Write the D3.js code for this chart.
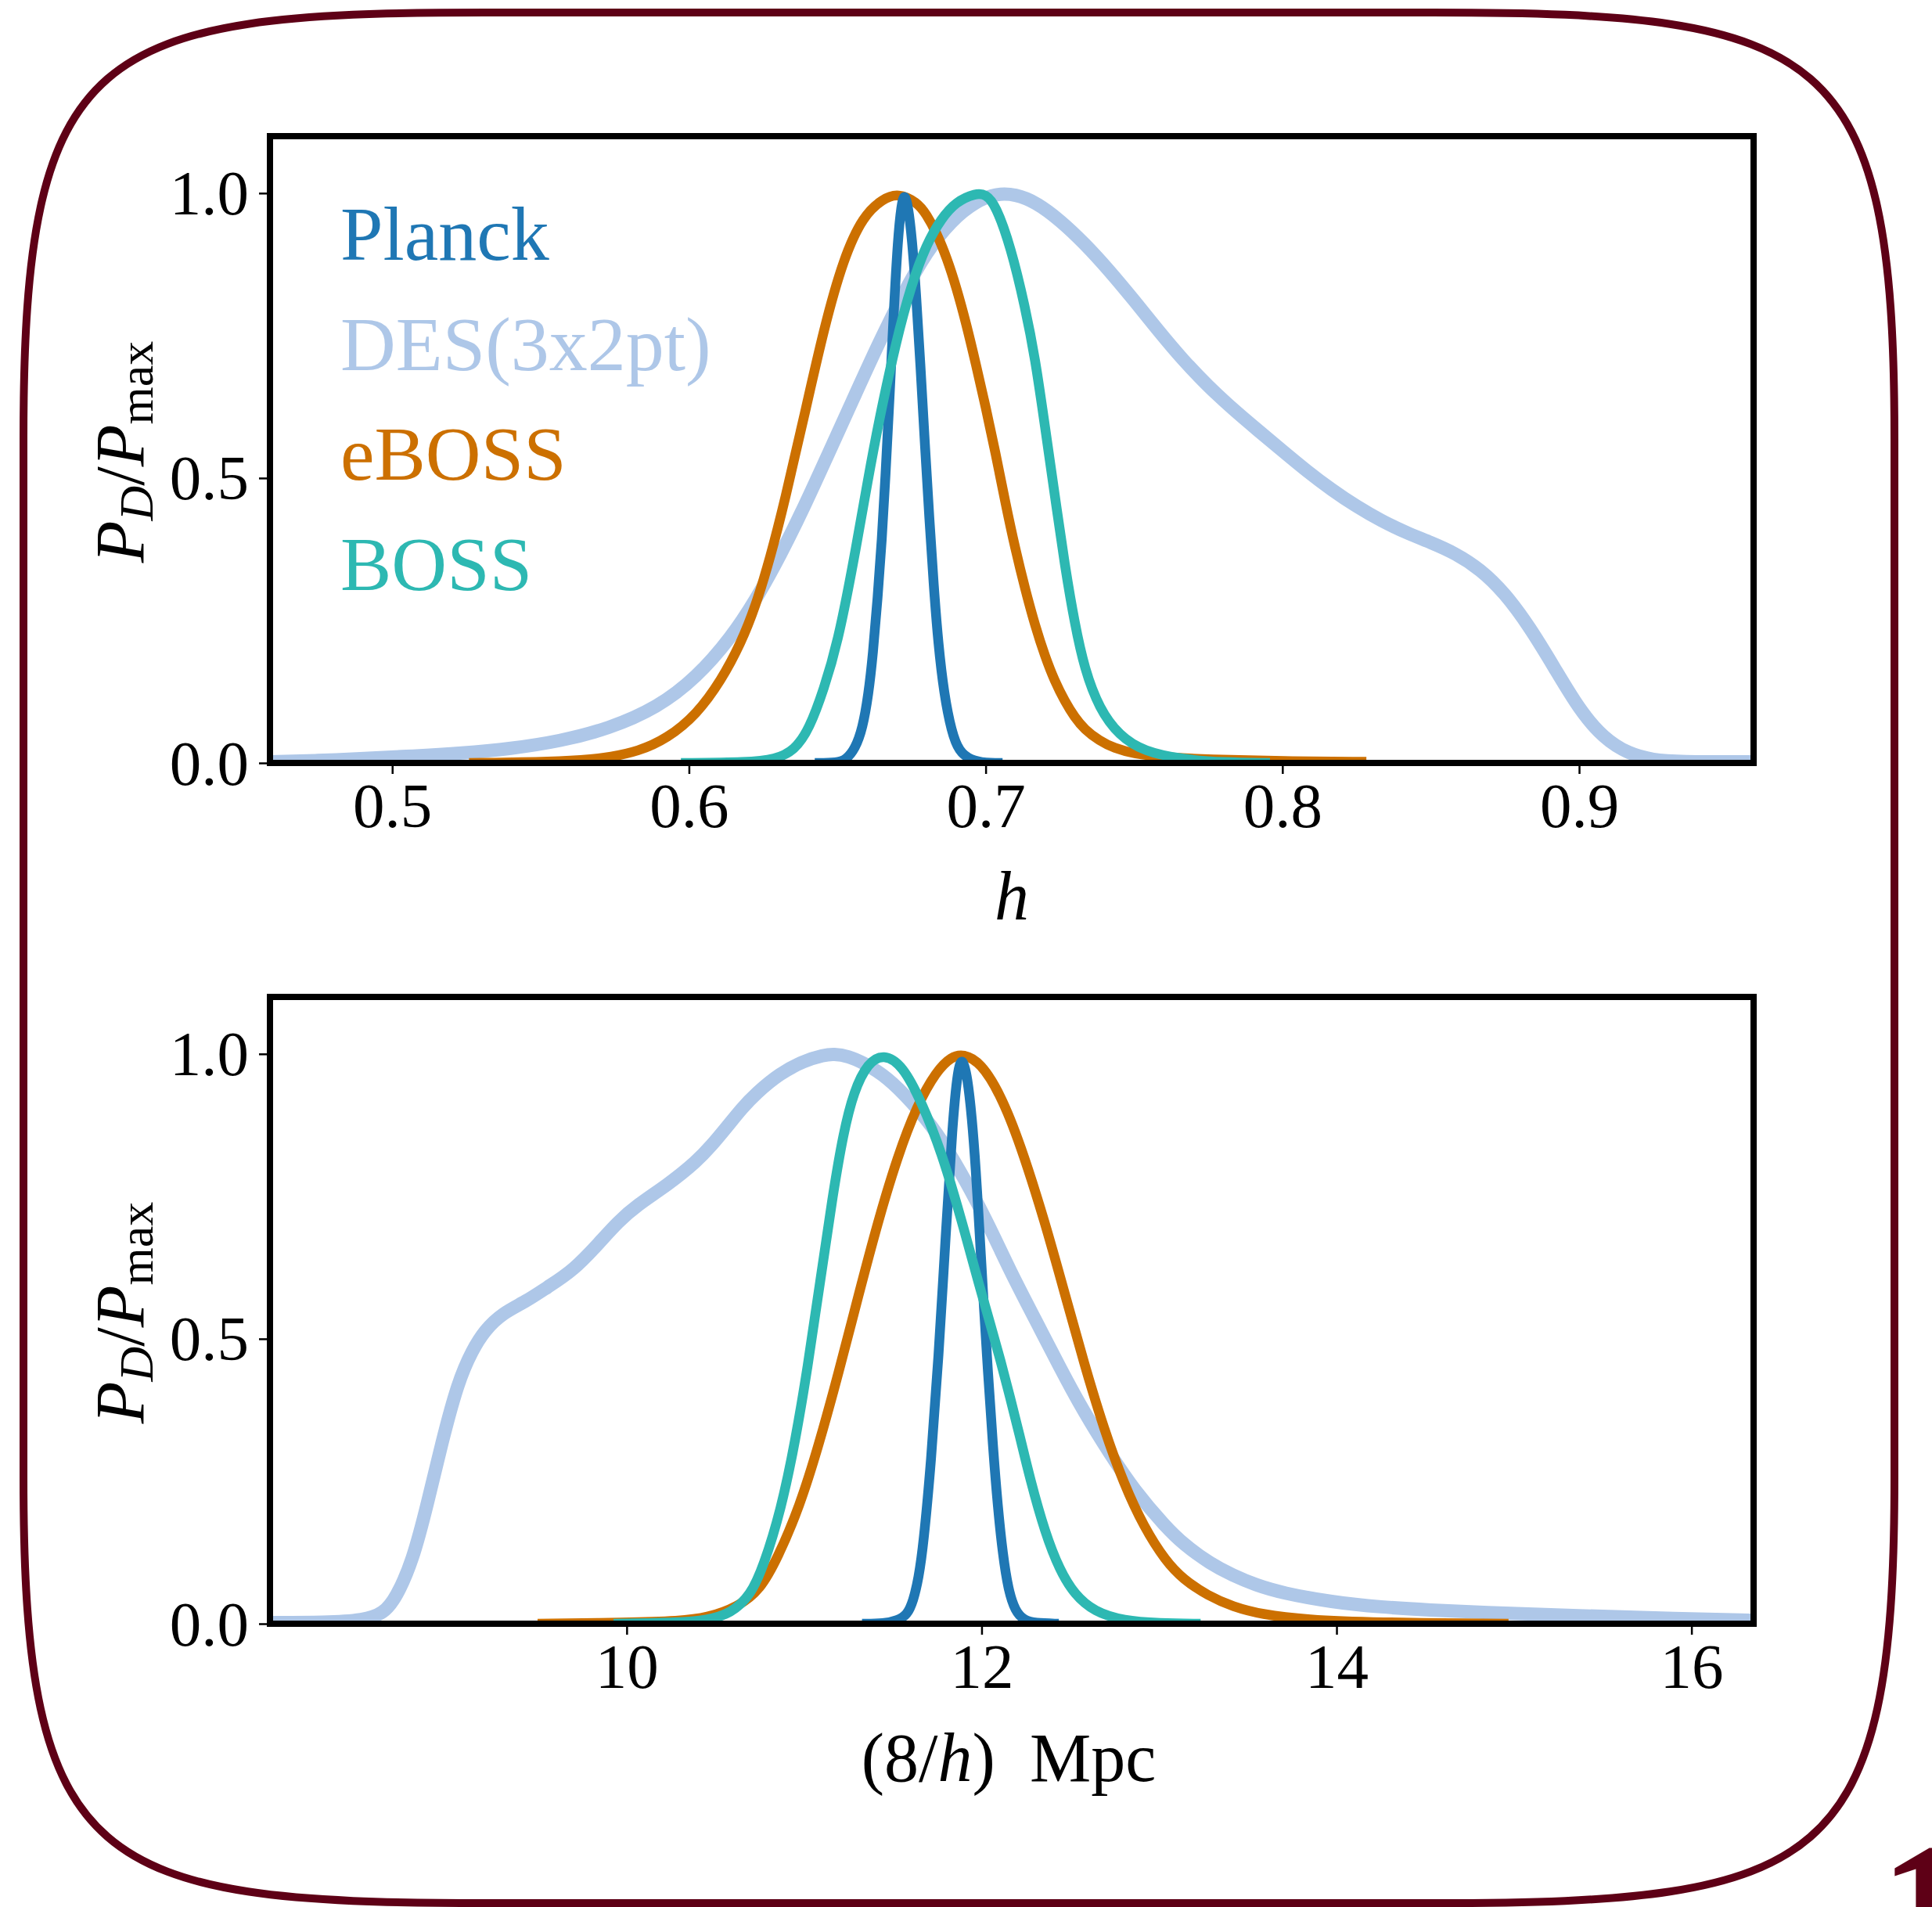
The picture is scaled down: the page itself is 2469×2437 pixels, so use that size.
<!DOCTYPE html>
<html>
<head>
<meta charset="utf-8">
<script src="https://cdn.jsdelivr.net/npm/d3@7"></script>
<style>
  html, body { margin: 0; padding: 0; background: #ffffff; }
  svg { display: block; }
</style>
</head>
<body>
<script>
// ---------------- DATA ----------------
const seriesNames = ["Planck", "DES(3x2pt)", "eBOSS", "BOSS"];

const hTicks = [0.5, 0.6, 0.7, 0.8, 0.9];
const hTickLabels = ["0.5", "0.6", "0.7", "0.8", "0.9"];
const rTicks = [10, 12, 14, 16];
const rTickLabels = ["10", "12", "14", "16"];
const yTicks = [0.0, 0.5, 1.0];
const yTickLabels = ["0.0", "0.5", "1.0"];
const hDomain = [0.4588, 0.9588];
const rDomain = [7.99, 16.35];
const yDomain = [0, 1.1];

// Top panel: h
const planckH = [[0.6424,0],[0.6500,0],[0.6530,0.006],[0.6560,0.025],[0.6585,0.06],[0.6605,0.12],[0.6620,0.19],
  [0.6636,0.29],[0.6650,0.39],[0.6662,0.50],[0.6676,0.64],[0.6690,0.79],[0.6704,0.92],[0.6716,0.98],[0.6726,1.0],
  [0.6738,0.98],[0.6752,0.92],[0.6766,0.82],[0.6780,0.70],[0.6795,0.56],[0.6810,0.43],[0.6825,0.31],
  [0.6840,0.21],[0.6860,0.12],[0.6885,0.055],[0.6910,0.02],[0.6950,0.005],[0.7000,0],[0.7057,0]];
const desH = [[0.4588,0.002],[0.4750,0.004],[0.4904,0.008],[0.5070,0.012],[0.5234,0.017],[0.5400,0.025],
  [0.5564,0.038],[0.5730,0.060],[0.5894,0.097],[0.6026,0.150],[0.6142,0.220],[0.6224,0.285],[0.6307,0.363],
  [0.6389,0.450],[0.6472,0.545],[0.6554,0.639],[0.6637,0.734],[0.6719,0.821],[0.6802,0.898],[0.6884,0.952],
  [0.6967,0.986],[0.7040,1.0],[0.7100,0.998],[0.7167,0.985],[0.7250,0.953],[0.7333,0.912],[0.7417,0.864],
  [0.7500,0.812],[0.7583,0.758],[0.7667,0.706],[0.7750,0.661],[0.7833,0.621],[0.7917,0.584],[0.8000,0.548],
  [0.8083,0.512],[0.8167,0.479],[0.8250,0.450],[0.8333,0.425],[0.8417,0.404],[0.8500,0.387],[0.8583,0.368],
  [0.8667,0.340],[0.8750,0.298],[0.8833,0.239],[0.8917,0.167],[0.9000,0.094],[0.9083,0.043],[0.9167,0.016],
  [0.9250,0.005],[0.9333,0.002],[0.9588,0.002]];
const eBossH = [[0.5259,0],[0.5550,0.002],[0.5682,0.007],[0.5729,0.01],[0.5828,0.02],[0.5927,0.043],[0.6026,0.085],
  [0.6109,0.145],[0.6175,0.21],[0.6224,0.274],[0.6274,0.36],[0.6323,0.46],[0.6389,0.61],[0.6455,0.763],
  [0.6521,0.886],[0.6587,0.96],[0.6653,0.99],[0.6705,1.0],[0.6769,0.984],[0.6800,0.963],[0.6835,0.93],
  [0.6870,0.885],[0.6901,0.835],[0.6935,0.77],[0.6967,0.70],[0.7000,0.625],[0.7033,0.545],[0.7067,0.455],
  [0.7100,0.375],[0.7133,0.305],[0.7167,0.24],[0.7200,0.187],[0.7233,0.143],[0.7267,0.108],[0.7300,0.08],
  [0.7333,0.059],[0.7383,0.039],[0.7433,0.026],[0.7500,0.016],[0.7600,0.01],[0.7750,0.006],[0.8000,0.003],
  [0.8283,0.002]];
const bossH = [[0.5973,0],[0.6200,0.001],[0.6290,0.006],[0.6356,0.022],[0.6406,0.06],[0.6455,0.13],[0.6501,0.21],
  [0.6554,0.35],[0.6604,0.50],[0.6640,0.60],[0.6698,0.74],[0.6750,0.84],[0.6800,0.91],[0.6850,0.955],
  [0.6900,0.985],[0.6967,1.0],[0.7000,0.998],[0.7033,0.98],[0.7085,0.905],[0.7133,0.80],[0.7167,0.71],
  [0.7200,0.59],[0.7233,0.47],[0.7267,0.345],[0.7300,0.245],[0.7333,0.165],[0.7383,0.095],[0.7450,0.048],
  [0.7533,0.02],[0.7667,0.006],[0.7800,0.001],[0.7958,0]];

// Bottom panel: (8/h) Mpc
const planckR = [[11.326,0],[11.450,0],[11.526,0.006],[11.580,0.015],[11.615,0.04],[11.645,0.08],[11.672,0.138],
  [11.715,0.283],[11.757,0.465],[11.798,0.683],[11.836,0.879],[11.866,0.975],[11.892,0.995],[11.920,0.96],
  [11.945,0.89],[11.967,0.80],[11.990,0.68],[12.008,0.58],[12.036,0.44],[12.064,0.31],[12.091,0.205],
  [12.120,0.12],[12.150,0.06],[12.189,0.022],[12.240,0.006],[12.300,0.001],[12.435,0]];
const desR = [[7.99,0.002],[8.30,0.002],[8.52,0.006],[8.63,0.018],[8.70,0.045],[8.794,0.11],[8.877,0.21],
  [8.96,0.32],[9.05,0.425],[9.13,0.48],[9.20,0.515],[9.30,0.545],[9.43,0.565],[9.55,0.59],[9.70,0.62],
  [9.85,0.67],[9.95,0.705],[10.06,0.735],[10.23,0.77],[10.394,0.811],[10.48,0.84],[10.56,0.87],[10.65,0.905],
  [10.726,0.93],[10.863,0.966],[11.00,0.988],[11.11,0.998],[11.167,1.0],[11.25,0.996],[11.332,0.985],
  [11.47,0.959],[11.608,0.915],[11.746,0.864],[11.884,0.792],[12.022,0.712],[12.162,0.618],[12.301,0.535],
  [12.44,0.45],[12.579,0.37],[12.719,0.30],[12.858,0.235],[13.037,0.17],[13.136,0.14],[13.29,0.105],
  [13.415,0.085],[13.544,0.068],[13.694,0.054],[13.972,0.038],[14.251,0.029],[14.53,0.024],[14.808,0.02],
  [15.365,0.014],[15.922,0.009],[16.35,0.006]];
const eBossR = [[9.498,0],[10.0,0.002],[10.3,0.005],[10.45,0.01],[10.63,0.03],[10.753,0.06],[10.85,0.115],
  [10.974,0.205],[11.084,0.315],[11.194,0.44],[11.305,0.575],[11.415,0.705],[11.526,0.82],[11.636,0.91],
  [11.746,0.97],[11.829,0.995],[11.898,1.0],[11.994,0.985],[12.105,0.93],[12.215,0.845],[12.357,0.705],
  [12.468,0.58],[12.579,0.455],[12.691,0.34],[12.802,0.245],[12.914,0.17],[13.037,0.11],[13.136,0.078],
  [13.276,0.049],[13.415,0.03],[13.582,0.016],[13.833,0.007],[14.2,0.002],[14.969,0]];
const bossR = [[9.926,0],[10.3,0.002],[10.45,0.006],[10.588,0.018],[10.698,0.05],[10.77,0.10],[10.87,0.20],
  [10.95,0.32],[11.02,0.45],[11.09,0.60],[11.16,0.75],[11.22,0.86],[11.28,0.935],[11.36,0.985],[11.448,1.0],
  [11.553,0.981],[11.663,0.915],[11.774,0.828],[11.884,0.712],[11.994,0.585],[12.050,0.525],[12.106,0.463],
  [12.16,0.398],[12.215,0.33],[12.273,0.254],[12.357,0.16],[12.44,0.094],[12.524,0.051],[12.635,0.021],
  [12.802,0.005],[13.0,0.001],[13.234,0]];

// ---------------- STYLE / LAYOUT ----------------
const colors = { "Planck": "#1f77b4", "DES(3x2pt)": "#aec7e8", "eBOSS": "#cc7000", "BOSS": "#2db8b2" };
const widths = { "Planck": 12.5, "DES(3x2pt)": 17, "eBOSS": 12.5, "BOSS": 12.5 };
const drawOrder = ["DES(3x2pt)", "eBOSS", "Planck", "BOSS"];
const serif = "'Liberation Serif', 'Times New Roman', Times, serif";
const W = 2469, H = 2437;
const plotL = 345, plotR = 2241;
const panels = [
  { top: 174, bottom: 975, domain: hDomain, ticks: hTicks, labels: hTickLabels,
    data: { "Planck": planckH, "DES(3x2pt)": desH, "eBOSS": eBossH, "BOSS": bossH }, legend: true, xlabel: "h" },
  { top: 1274, bottom: 2075, domain: rDomain, ticks: rTicks, labels: rTickLabels,
    data: { "Planck": planckR, "DES(3x2pt)": desR, "eBOSS": eBossR, "BOSS": bossR }, legend: false, xlabel: "mpc" }
];

const svg = d3.select("body").append("svg")
  .attr("width", W).attr("height", H)
  .attr("viewBox", `0 0 ${W} ${H}`);

svg.append("rect").attr("width", W).attr("height", H).attr("fill", "#ffffff");

const defs = svg.append("defs");

panels.forEach((p, i) => {
  const x = d3.scaleLinear().domain(p.domain).range([plotL, plotR]);
  const y = d3.scaleLinear().domain(yDomain).range([p.bottom, p.top]);
  const g = svg.append("g");

  defs.append("clipPath").attr("id", "clip" + i)
    .append("rect").attr("x", plotL).attr("y", p.top)
    .attr("width", plotR - plotL).attr("height", p.bottom - p.top);

  // ticks
  const xAxis = d3.axisBottom(x).tickValues(p.ticks).tickSize(14)
    .tickFormat((d, k) => p.labels[k]);
  const gx = g.append("g").attr("transform", `translate(0,${p.bottom})`).call(xAxis);
  gx.select(".domain").remove();
  gx.selectAll(".tick line").attr("stroke", "#000").attr("stroke-width", 2.5);
  gx.selectAll(".tick text").attr("y", 82).attr("dy", null)
    .attr("font-family", serif).attr("font-size", 81).attr("fill", "#000");

  const yAxis = d3.axisLeft(y).tickValues(yTicks).tickSize(14)
    .tickFormat((d, k) => yTickLabels[k]);
  const gy = g.append("g").attr("transform", `translate(${plotL},0)`).call(yAxis);
  gy.select(".domain").remove();
  gy.selectAll(".tick line").attr("stroke", "#000").attr("stroke-width", 2.5);
  gy.selectAll(".tick text").attr("x", -27).attr("y", 27).attr("dy", null)
    .attr("font-family", serif).attr("font-size", 81).attr("fill", "#000");

  // curves
  const line = d3.line().x(d => x(d[0])).y(d => y(d[1])).curve(d3.curveBasis);
  const gc = g.append("g").attr("clip-path", `url(#clip${i})`);
  drawOrder.forEach(name => {
    gc.append("path").datum(p.data[name])
      .attr("d", line)
      .attr("fill", "none")
      .attr("stroke", colors[name])
      .attr("stroke-width", widths[name])
      .attr("stroke-linejoin", "round")
      .attr("stroke-linecap", "butt");
  });

  // frame
  g.append("rect").attr("x", plotL).attr("y", p.top)
    .attr("width", plotR - plotL).attr("height", p.bottom - p.top)
    .attr("fill", "none").attr("stroke", "#000").attr("stroke-width", 8);

  // y label
  const cy = (p.top + p.bottom) / 2 + 3;
  const yl = g.append("text")
    .attr("transform", `translate(183,${cy}) rotate(-90)`)
    .attr("text-anchor", "middle")
    .attr("font-family", serif).attr("font-size", 88).attr("fill", "#000");
  yl.append("tspan").attr("font-style", "italic").text("P");
  yl.append("tspan").attr("font-style", "italic").attr("font-size", 62).attr("dy", 12).text("D");
  yl.append("tspan").attr("dy", -12).text("/");
  yl.append("tspan").attr("font-style", "italic").text("P");
  yl.append("tspan").attr("font-size", 62).attr("dy", 12).text("max");

  // x label
  const cx = (plotL + plotR) / 2;
  if (p.xlabel === "h") {
    g.append("text").attr("x", cx).attr("y", p.bottom + 200)
      .attr("text-anchor", "middle").attr("font-family", serif)
      .attr("font-size", 88).attr("font-style", "italic").attr("fill", "#000").text("h");
  } else {
    const t = g.append("text").attr("x", cx - 4).attr("y", p.bottom + 201)
      .attr("text-anchor", "middle").attr("font-family", serif)
      .attr("font-size", 88).attr("fill", "#000");
    t.append("tspan").text("(8/");
    t.append("tspan").attr("font-style", "italic").text("h");
    t.append("tspan").text(")\u00a0\u00a0Mpc");
  }

  // legend (text only, coloured)
  if (p.legend) {
    seriesNames.forEach((name, k) => {
      g.append("text").attr("x", plotL + 90).attr("y", p.top + 158 + k * 140.7)
        .attr("font-family", serif).attr("font-size", 98)
        .attr("fill", colors[name]).text(name);
    });
  }
});

// slide frame
const bL = 30, bR = 2421, bT = 16, bB = 2432, ex = 590, ey = 545, c1 = 44, c2 = 90;
const frame = d3.path();
frame.moveTo(bL, bT + ey);
frame.bezierCurveTo(bL, bT + c1, bL + c2, bT, bL + ex, bT);
frame.lineTo(bR - ex, bT);
frame.bezierCurveTo(bR - c2, bT, bR, bT + c1, bR, bT + ey);
frame.lineTo(bR, bB - ey);
frame.bezierCurveTo(bR, bB - c1, bR - c2, bB, bR - ex, bB);
frame.lineTo(bL + ex, bB);
frame.bezierCurveTo(bL + c2, bB, bL, bB - c1, bL, bB - ey);
frame.closePath();
svg.append("path").attr("d", frame.toString())
  .attr("fill", "none").attr("stroke", "#5e0016").attr("stroke-width", 10);

// page number fragment
svg.append("text").attr("x", 2402).attr("y", 2520)
  .attr("font-family", serif).attr("font-weight", "bold").attr("font-size", 240)
  .attr("fill", "#5e0016").text("1");
</script>
</body>
</html>
